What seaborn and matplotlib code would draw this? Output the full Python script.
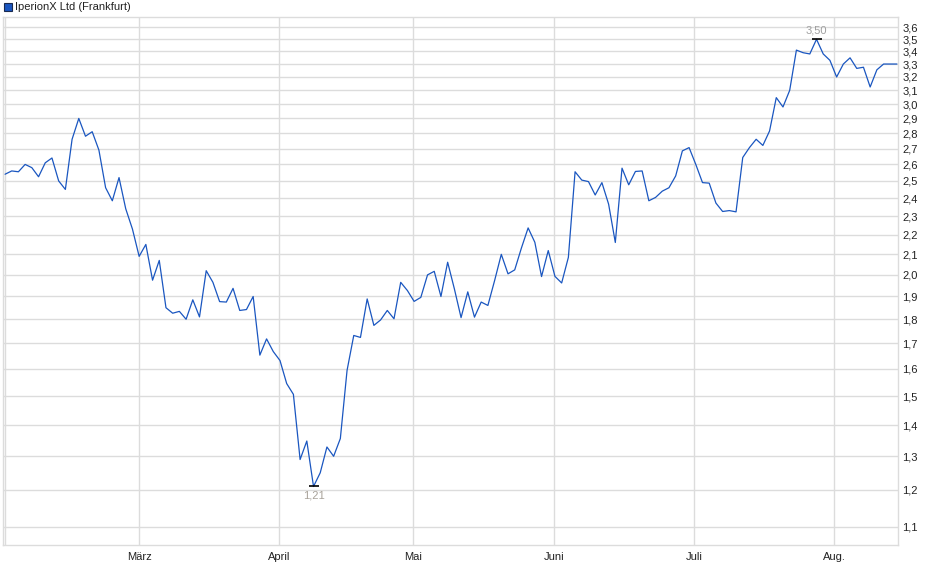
import matplotlib
matplotlib.use('Agg')
import matplotlib.pyplot as plt
from matplotlib.patches import Rectangle
from matplotlib.ticker import FixedLocator, NullLocator
import seaborn as sns
import pandas as pd
import numpy as np

# closing prices, one per trading day
prices = [
    2.54, 2.56, 2.555, 2.60, 2.58, 2.525, 2.61, 2.64, 2.50, 2.45,
    2.76, 2.90, 2.78, 2.81, 2.69, 2.46, 2.385, 2.52, 2.34, 2.23,
    2.09, 2.15, 1.975, 2.07, 1.85, 1.826, 1.834, 1.80, 1.885, 1.81,
    2.02, 1.965, 1.877, 1.875, 1.937, 1.838, 1.842, 1.90, 1.653, 1.718,
    1.667, 1.632, 1.545, 1.506, 1.29, 1.348, 1.21, 1.25, 1.329, 1.30,
    1.356, 1.594, 1.732, 1.724, 1.889, 1.774, 1.797, 1.838, 1.802, 1.965,
    1.927, 1.878, 1.896, 2.00, 2.017, 1.90, 2.061, 1.935, 1.807, 1.921,
    1.809, 1.875, 1.86, 1.973, 2.10, 2.005, 2.024, 2.132, 2.236, 2.161,
    1.992, 2.119, 1.993, 1.962, 2.085, 2.555, 2.505, 2.496, 2.418, 2.49,
    2.366, 2.16, 2.577, 2.477, 2.557, 2.56, 2.385, 2.404, 2.44, 2.46,
    2.53, 2.685, 2.706, 2.60, 2.49, 2.487, 2.372, 2.325, 2.33, 2.323,
    2.643, 2.706, 2.76, 2.72, 2.815, 3.047, 2.98, 3.10, 3.411, 3.39,
    3.38, 3.50, 3.38, 3.329, 3.20, 3.30, 3.349, 3.266, 3.275, 3.125,
    3.255, 3.30, 3.30, 3.30,
]

# month starts, as trading-day positions
month_pos = [0, 20, 40.85, 60.85, 81.9, 102.7, 123.6]
month_labels = ['', 'März', 'April', 'Mai', 'Juni', 'Juli', 'Aug.']

y_ticks = [1.1, 1.2, 1.3, 1.4, 1.5, 1.6, 1.7, 1.8, 1.9, 2.0, 2.1, 2.2, 2.3,
           2.4, 2.5, 2.6, 2.7, 2.8, 2.9, 3.0, 3.1, 3.2, 3.3, 3.4, 3.5, 3.6]

title = 'IperionX Ltd (Frankfurt)'

df = pd.DataFrame({'day': np.arange(len(prices)), 'price': prices})

sns.set_style('white')
plt.rcParams['font.family'] = ['Liberation Sans', 'DejaVu Sans']

line_col = '#1a56c0'
grid_col = '#dcdcdc'

fig = plt.figure(figsize=(9.4, 5.79), dpi=100)
ax = fig.add_axes([3 / 940, 34 / 579, 895 / 940, 528 / 579])

sns.lineplot(data=df, x='day', y='price', ax=ax, color=line_col, linewidth=0.9)

ax.set_yscale('log')
ax.set_ylim(1.053, 3.69)
ax.set_xlim(-0.3, len(prices) - 1 + 0.15)

ax.yaxis.set_major_locator(FixedLocator(y_ticks))
ax.yaxis.set_minor_locator(NullLocator())
ax.set_yticklabels([f'{v:.1f}'.replace('.', ',') for v in y_ticks])
ax.yaxis.tick_right()
ax.tick_params(axis='y', length=0, pad=3, labelsize=8, labelcolor='#222222')

ax.xaxis.set_major_locator(FixedLocator(month_pos))
ax.xaxis.set_minor_locator(NullLocator())
ax.set_xticklabels(month_labels)
ax.tick_params(axis='x', length=3, width=1, color=grid_col, pad=2,
               labelsize=8, labelcolor='#222222')

ax.grid(True, color=grid_col, linewidth=1.0)
ax.set_axisbelow(True)
for s in ax.spines.values():
    s.set_color(grid_col)
    s.set_linewidth(1.0)
ax.set_xlabel('')
ax.set_ylabel('')

# high / low markers
i_max = int(np.argmax(prices))
i_min = int(np.argmin(prices))
ax.plot([i_max, i_min], [prices[i_max], prices[i_min]], linestyle='none',
        marker='_', markersize=6.5, mew=1.2, color='black')
ax.annotate(f'{prices[i_max]:.2f}'.replace('.', ','), (i_max, prices[i_max]),
            xytext=(0, 3), textcoords='offset points', ha='center', va='bottom',
            fontsize=8, color='#a0a0a0')
ax.annotate(f'{prices[i_min]:.2f}'.replace('.', ','), (i_min, prices[i_min]),
            xytext=(0, -3), textcoords='offset points', ha='center', va='top',
            fontsize=8, color='#a8a29a')

# legend box at the top
fig.add_artist(Rectangle((4 / 940, 1 - 11 / 579), 8 / 940, 8 / 579,
                         transform=fig.transFigure, facecolor=line_col,
                         edgecolor='#1a2a50', linewidth=0.8))
fig.text(15 / 940, 1 - 7 / 579, title, fontsize=8, va='center', ha='left',
         color='#222222')

fig.savefig('out.png', dpi=100)
